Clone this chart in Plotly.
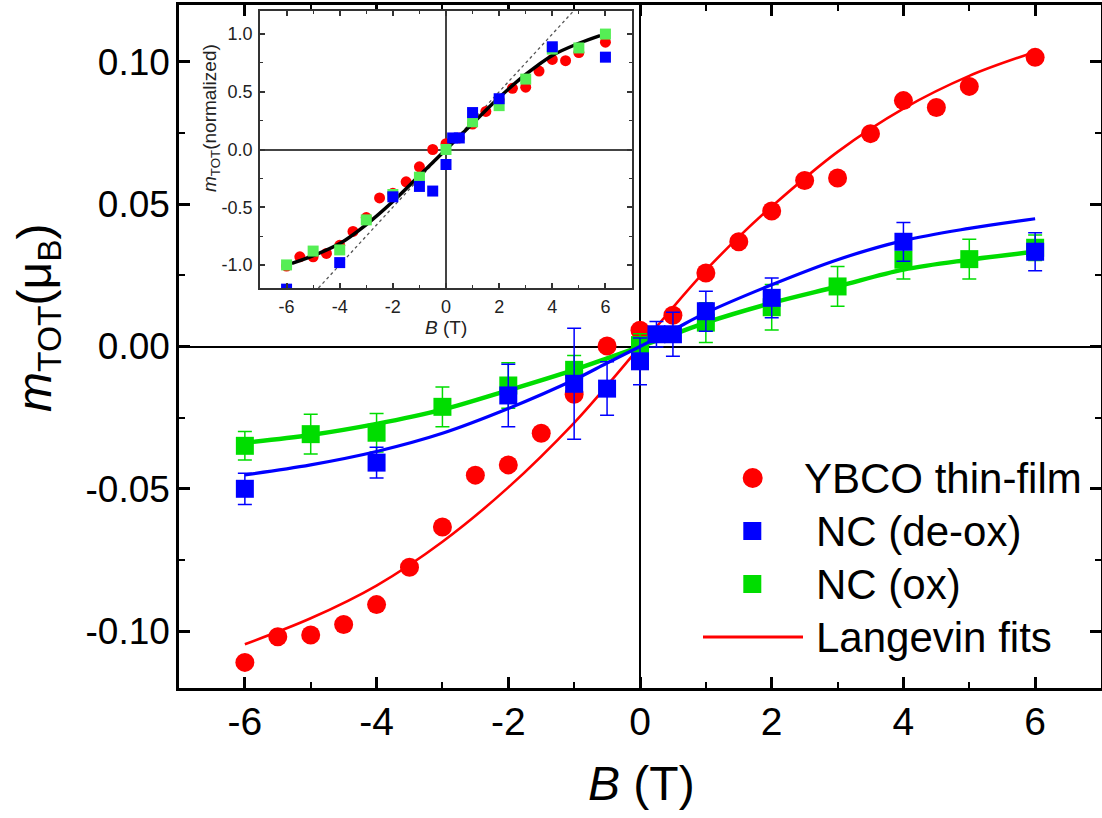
import plotly.graph_objects as go

# ---------------- data ----------------
# main panel: YBCO thin-film (red circles)
ybco_B = [-6, -5.5, -5, -4.5, -4, -3.5, -3, -2.5, -2, -1.5, -1, -0.5, 0, 0.5, 1, 1.5, 2, 2.5, 3, 3.5, 4, 4.5, 5, 6]
ybco_m = [-0.1110, -0.1020, -0.1014, -0.0977, -0.0907, -0.0776, -0.0634, -0.0452, -0.0416, -0.0305, -0.0168, 0.0002,
          0.0057, 0.0110, 0.0258, 0.0368, 0.0476, 0.0583, 0.0592, 0.0748, 0.0864, 0.0840, 0.0914, 0.1016]

# NC (de-ox) (blue squares)
deox_B = [-6, -4, -2, -1, -0.5, 0, 0.25, 0.5, 1, 2, 4, 6]
deox_m = [-0.0500, -0.0408, -0.0172, -0.0131, -0.0148, -0.0052, 0.0043, 0.0043, 0.0124, 0.0171, 0.0368, 0.0333]
deox_err = [0.0055, 0.0054, 0.0110, 0.0195, 0.0094, 0.0082, 0.0045, 0.0077, 0.0070, 0.0070, 0.0068, 0.0067]

# NC (ox) (green squares)
ox_B = [-6, -5, -4, -3, -2, -1, 0, 1, 2, 3, 4, 5, 6]
ox_m = [-0.0349, -0.0308, -0.0303, -0.0212, -0.0137, -0.0082, 0.0005, 0.0084, 0.0138, 0.0211, 0.0305, 0.0307, 0.0347]
ox_err = [0.0050, 0.0070, 0.0068, 0.0070, 0.0080, 0.0050, 0.0040, 0.0070, 0.0080, 0.0070, 0.0068, 0.0070, 0.0045]

# Langevin fit curves
fit_red_B = [-6, -5, -4, -3, -2, -1, -0.5, 0, 0.5, 1, 1.5, 2, 3, 4, 5, 6]
fit_red_m = [-0.1046, -0.0955, -0.0840, -0.0686, -0.0495, -0.0268, -0.0137, 0.0, 0.0137, 0.0268, 0.0385, 0.0492,
             0.0684, 0.0836, 0.0951, 0.1035]
fit_blue_B = [-6, -5, -4, -3, -2, -1, -0.5, 0, 0.5, 1, 2, 3, 4, 5, 6]
fit_blue_m = [-0.0451, -0.0416, -0.0369, -0.0305, -0.0218, -0.0117, -0.0058, 0.0, 0.0058, 0.0118, 0.0217, 0.0305,
              0.0372, 0.0415, 0.0449]
fit_green_B = [-6, -5, -4, -3, -2, -1, -0.5, 0, 0.5, 1, 2, 3, 4, 5, 6]
fit_green_m = [-0.0338, -0.0311, -0.0272, -0.0222, -0.0154, -0.0082, -0.0042, 0.0, 0.0042, 0.0084, 0.0153, 0.0211,
               0.0270, 0.0305, 0.0333]

# inset: normalized data
in_red_B = [-6, -5.5, -5, -4.5, -4, -3.5, -3, -2.5, -2, -1.5, -1, -0.5, 0, 0.5, 1, 1.5, 2, 2.5, 3, 3.5, 4, 4.5, 5, 6]
in_red_m = [-1.01, -0.93, -0.93, -0.90, -0.83, -0.71, -0.59, -0.42, -0.38, -0.28, -0.15, 0.0, 0.05, 0.10, 0.22, 0.33,
            0.43, 0.53, 0.54, 0.68, 0.78, 0.77, 0.84, 0.93]
in_blue_B = [-6, -4, -2, -1, -0.5, 0, 0.25, 0.5, 1, 2, 4, 6]
in_blue_m = [-1.21, -0.98, -0.41, -0.32, -0.36, -0.13, 0.10, 0.10, 0.32, 0.44, 0.89, 0.80]
in_green_B = [-6, -5, -4, -3, -2, -1, 0, 1, 2, 3, 4, 5, 6]
in_green_m = [-1.0, -0.88, -0.87, -0.61, -0.39, -0.24, 0.0, 0.24, 0.38, 0.61, 0.87, 0.88, 1.0]
in_fit_B = [-5.8, -5, -4, -3, -2, -1, 0, 1, 2, 3, 4, 5, 5.8]
in_fit_m = [-0.987, -0.92, -0.815, -0.65, -0.45, -0.225, 0.0, 0.225, 0.45, 0.65, 0.815, 0.92, 0.987]
in_lin_B = [-4.8, 4.8]
in_lin_m = [-1.2, 1.2]

# tick labels
x_tickvals = [-6, -4, -2, 0, 2, 4, 6]
x_ticktext = ["-6", "-4", "-2", "0", "2", "4", "6"]
y_tickvals = [-0.10, -0.05, 0.0, 0.05, 0.10]
y_ticktext = ["-0.10", "-0.05", "0.00", "0.05", "0.10"]
in_y_tickvals = [-1.0, -0.5, 0.0, 0.5, 1.0]
in_y_ticktext = ["-1.0", "-0.5", "0.0", "0.5", "1.0"]

legend_labels = ["YBCO thin-film", " NC (de-ox)", " NC (ox)", "Langevin fits"]

# ---------------- styling ----------------
RED, BLUE, GREEN = "#FF0000", "#0000FF", "#00DD00"
IN_GREEN = "#55EE55"
FONT = "Arial, 'Liberation Sans', sans-serif"

W, H = 1102, 818
ML, MR, MT, MB = 179, 1, 5, 130
PW, PH = W - ML - MR, H - MT - MB


def pxx(px):
    return (px - ML) / PW


def pxy(py):
    return 1 - (py - MT) / PH


fig = go.Figure()

# main panel traces
fig.add_trace(go.Scatter(x=fit_red_B, y=fit_red_m, mode="lines", line=dict(color=RED, width=2.6, shape="spline"),
                         showlegend=False))
fig.add_trace(go.Scatter(x=ybco_B, y=ybco_m, mode="markers", marker=dict(color=RED, size=19, symbol="circle"),
                         showlegend=False))
fig.add_trace(go.Scatter(x=fit_green_B, y=fit_green_m, mode="lines", line=dict(color=GREEN, width=4.5, shape="spline"),
                         showlegend=False))
fig.add_trace(go.Scatter(x=ox_B, y=ox_m, mode="markers", marker=dict(color=GREEN, size=18, symbol="square"),
                         error_y=dict(type="data", array=ox_err, color=GREEN, thickness=1.5, width=7),
                         showlegend=False))
fig.add_trace(go.Scatter(x=fit_blue_B, y=fit_blue_m, mode="lines", line=dict(color=BLUE, width=3.2, shape="spline"),
                         showlegend=False))
fig.add_trace(go.Scatter(x=deox_B, y=deox_m, mode="markers", marker=dict(color=BLUE, size=18, symbol="square"),
                         error_y=dict(type="data", array=deox_err, color=BLUE, thickness=1.5, width=7),
                         showlegend=False))

# inset traces
fig.add_trace(go.Scatter(x=in_lin_B, y=in_lin_m, mode="lines", xaxis="x2", yaxis="y2",
                         line=dict(color="#555555", width=1.3, dash="dot"), showlegend=False))
fig.add_trace(go.Scatter(x=in_red_B, y=in_red_m, mode="markers", xaxis="x2", yaxis="y2",
                         marker=dict(color=RED, size=11, symbol="circle"), showlegend=False))
fig.add_trace(go.Scatter(x=in_fit_B, y=in_fit_m, mode="lines", xaxis="x2", yaxis="y2",
                         line=dict(color="black", width=3.5, shape="spline"), showlegend=False))
fig.add_trace(go.Scatter(x=in_green_B, y=in_green_m, mode="markers", xaxis="x2", yaxis="y2",
                         marker=dict(color=IN_GREEN, size=11, symbol="square"), showlegend=False))
fig.add_trace(go.Scatter(x=in_blue_B, y=in_blue_m, mode="markers", xaxis="x2", yaxis="y2",
                         marker=dict(color=BLUE, size=11, symbol="square"), showlegend=False))

main_axis_common = dict(showgrid=False, showline=True, linecolor="black", linewidth=2.5, mirror="ticks",
                        ticks="inside", ticklen=11, tickwidth=2.5, tickcolor="black", automargin=False,
                        zeroline=True, zerolinecolor="black", zerolinewidth=2)
inset_axis_common = dict(showgrid=False, showline=True, linecolor="#333333", linewidth=1.5, mirror="ticks",
                         ticks="inside", ticklen=5, tickwidth=1.5, tickcolor="#333333", automargin=False,
                         zeroline=True, zerolinecolor="#444444", zerolinewidth=1.5,
                         tickfont=dict(size=18, family=FONT, color="#222222"), ticklabelstandoff=2)

fig.update_layout(
    width=W, height=H,
    margin=dict(l=ML, r=MR, t=MT, b=MB, autoexpand=False),
    paper_bgcolor="white", plot_bgcolor="white",
    font=dict(family=FONT, color="black"),
    showlegend=False,
    xaxis=dict(range=[-7, 7], tickvals=x_tickvals, ticktext=x_ticktext,
               tickfont=dict(size=39, family=FONT), ticklabelstandoff=-3,
               minor=dict(dtick=1, tick0=-7, ticks="inside", ticklen=6, tickwidth=2, tickcolor="black"),
               **main_axis_common),
    yaxis=dict(range=[-0.12, 0.12], tickvals=y_tickvals, ticktext=y_ticktext,
               tickfont=dict(size=37, family=FONT), ticklabelstandoff=-1,
               minor=dict(dtick=0.025, tick0=0, ticks="inside", ticklen=6, tickwidth=2, tickcolor="black"),
               **main_axis_common),
    xaxis2=dict(domain=[pxx(260), pxx(632)], anchor="y2", range=[-7, 7], tickvals=x_tickvals, ticktext=x_ticktext,
                minor=dict(dtick=1, tick0=-7, ticks="inside", ticklen=3, tickwidth=1.2, tickcolor="#333333"),
                **inset_axis_common),
    yaxis2=dict(domain=[pxy(288), pxy(11)], anchor="x2", range=[-1.2, 1.2], tickvals=in_y_tickvals,
                ticktext=in_y_ticktext,
                minor=dict(dtick=0.25, tick0=0, ticks="inside", ticklen=3, tickwidth=1.2, tickcolor="#333333"),
                **inset_axis_common),
)

# titles
annotations = [
    dict(text="<i>B</i> (T)", x=pxx(641), y=pxy(783), xref="paper", yref="paper", xanchor="center",
         yanchor="middle", showarrow=False, font=dict(size=48, family=FONT, color="black")),
    dict(text="<i>m</i><sub>TOT</sub>(μ<sub>B</sub>)", x=pxx(38), y=pxy(318), xref="paper", yref="paper",
         xanchor="center", yanchor="middle", textangle=-90, showarrow=False,
         font=dict(size=48, family=FONT, color="black")),
    dict(text="<i>B</i> (T)", x=pxx(446), y=pxy(327), xref="paper", yref="paper", xanchor="center",
         yanchor="middle", showarrow=False, font=dict(size=19, family=FONT, color="#222222")),
    dict(text="<i>m</i><sub>TOT</sub>(normalized)", x=pxx(211), y=pxy(118), xref="paper", yref="paper",
         xanchor="center", yanchor="middle", textangle=-90, showarrow=False,
         font=dict(size=19, family=FONT, color="#222222")),
]

# manual legend
leg_text_x = [801.7, 814, 814, 814]
leg_row_y = [478, 531, 584, 637]
for lab, tx, ty in zip(legend_labels, leg_text_x, leg_row_y):
    annotations.append(dict(text=lab.strip(),
                            x=pxx(tx), y=pxy(ty), xref="paper", yref="paper", xanchor="left",
                            yanchor="middle", showarrow=False, font=dict(size=42, family=FONT, color="black")))

shapes = [
    dict(type="circle", xref="paper", yref="paper", xsizemode="pixel", ysizemode="pixel",
         xanchor=pxx(752.7), yanchor=pxy(478), x0=-10, x1=10, y0=-10, y1=10,
         fillcolor=RED, line=dict(width=0)),
    dict(type="rect", xref="paper", yref="paper", xsizemode="pixel", ysizemode="pixel",
         xanchor=pxx(752.3), yanchor=pxy(531), x0=-9, x1=9, y0=-9, y1=9,
         fillcolor=BLUE, line=dict(width=0)),
    dict(type="rect", xref="paper", yref="paper", xsizemode="pixel", ysizemode="pixel",
         xanchor=pxx(752.3), yanchor=pxy(584), x0=-9, x1=9, y0=-9, y1=9,
         fillcolor=GREEN, line=dict(width=0)),
    dict(type="line", xref="paper", yref="paper", x0=pxx(703), x1=pxx(803), y0=pxy(637), y1=pxy(637),
         line=dict(color=RED, width=3)),
]

fig.update_layout(annotations=annotations, shapes=shapes)

fig.write_html("out.html", config={"displayModeBar": False},
               post_script="document.body.style.margin='0';document.body.style.padding='0';")
